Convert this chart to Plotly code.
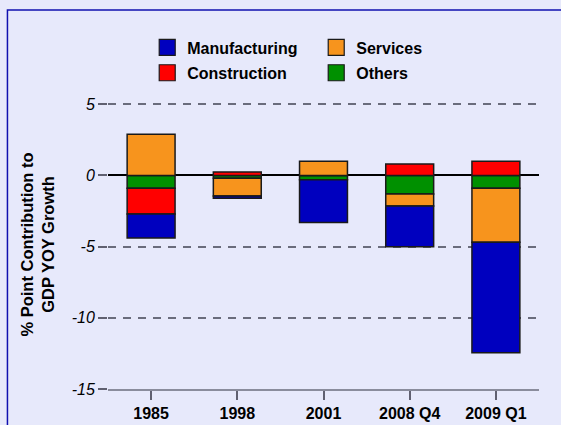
import plotly.graph_objects as go

# Contribution of each sector to GDP year-on-year growth (% points)
periods = ["1985", "1998", "2001", "2008 Q4", "2009 Q1"]
others = [-0.9, -0.2, -0.3, -1.3, -0.9]
construction = [-1.8, 0.25, 0.0, 0.8, 1.0]
services = [2.9, -1.25, 1.0, -0.85, -3.8]
manufacturing = [-1.7, -0.15, -3.0, -2.85, -7.75]

y_ticks = [5, 0, -5, -10, -15]
y_tick_text = ["5", "0", "-5", "-10", "-15"]

BG = "#E7E9FB"
EDGE = "#1a1a1a"
FONT = "Arial, Liberation Sans, sans-serif"

# stacking order away from zero: Others, Construction, Services, Manufacturing
series = [
    ("Others", others, "#009000", "legend2", 4),
    ("Construction", construction, "#FF0000", "legend2", 3),
    ("Services", services, "#F7941D", "legend", 2),
    ("Manufacturing", manufacturing, "#0000BF", "legend", 1),
]

fig = go.Figure()
for name, vals, color, leg, rank in series:
    fig.add_trace(go.Bar(
        x=periods, y=vals, name=name, legendgroup=name, showlegend=False,
        marker=dict(color=color, line=dict(color=EDGE, width=1.5)),
        width=0.556,
    ))

# legend keys: large square swatches tied to each bar series
for name, vals, color, leg, rank in series:
    fig.add_trace(go.Scatter(
        x=[None], y=[None], mode="markers", name=name, legendgroup=name,
        marker=dict(symbol="square", size=16, color=color,
                    line=dict(color=EDGE, width=1.2)),
        legend=leg, legendrank=rank, hoverinfo="skip",
    ))

legend_style = dict(
    orientation="h", xanchor="left", yanchor="middle",
    bgcolor="rgba(0,0,0,0)", borderwidth=0,
    font=dict(family=FONT, size=16, color="#000000", weight="bold"),
    entrywidth=124, traceorder="normal", itemsizing="trace",
)

fig.update_layout(
    width=561, height=425,
    margin=dict(l=108, r=22, t=100, b=36),
    paper_bgcolor=BG, plot_bgcolor=BG,
    barmode="relative",
    showlegend=True,
    legend=dict(x=0.091, y=1.182, **legend_style),
    legend2=dict(x=0.091, y=1.094, **legend_style),
    xaxis=dict(
        type="category", range=[-0.5, 4.5], automargin=False,
        showgrid=False, zeroline=False,
        showline=True, linecolor="#8a8c9c", linewidth=1.5,
        ticks="outside", ticklen=9, tickwidth=1.5, tickcolor="#606070",
        tickfont=dict(family=FONT, size=16, color="#000000", weight="bold"),
    ),
    yaxis=dict(
        range=[-15, 5.3], tickvals=y_ticks, ticktext=y_tick_text,
        automargin=False,
        showgrid=True, gridcolor="#6a6c7c", gridwidth=1.5, griddash="8px,7px",
        zeroline=True, zerolinecolor="#000000", zerolinewidth=2,
        showline=False,
        ticks="outside", ticklen=9, tickwidth=1.5, tickcolor="#606070",
        tickfont=dict(family=FONT, size=16, color="#000000", style="italic"),
        title=dict(
            text="% Point Contribution to<br>GDP YOY Growth",
            font=dict(family=FONT, size=16.5, color="#000000", weight="bold"),
            standoff=12,
        ),
    ),
    shapes=[dict(
        type="rect", xref="paper", yref="paper",
        x0=-0.2333, x1=1.2, y0=-0.3, y1=1.311,
        line=dict(color="#1010B0", width=1.5), fillcolor="rgba(0,0,0,0)",
        layer="below",
    )],
)

fig.write_html("out.html")
